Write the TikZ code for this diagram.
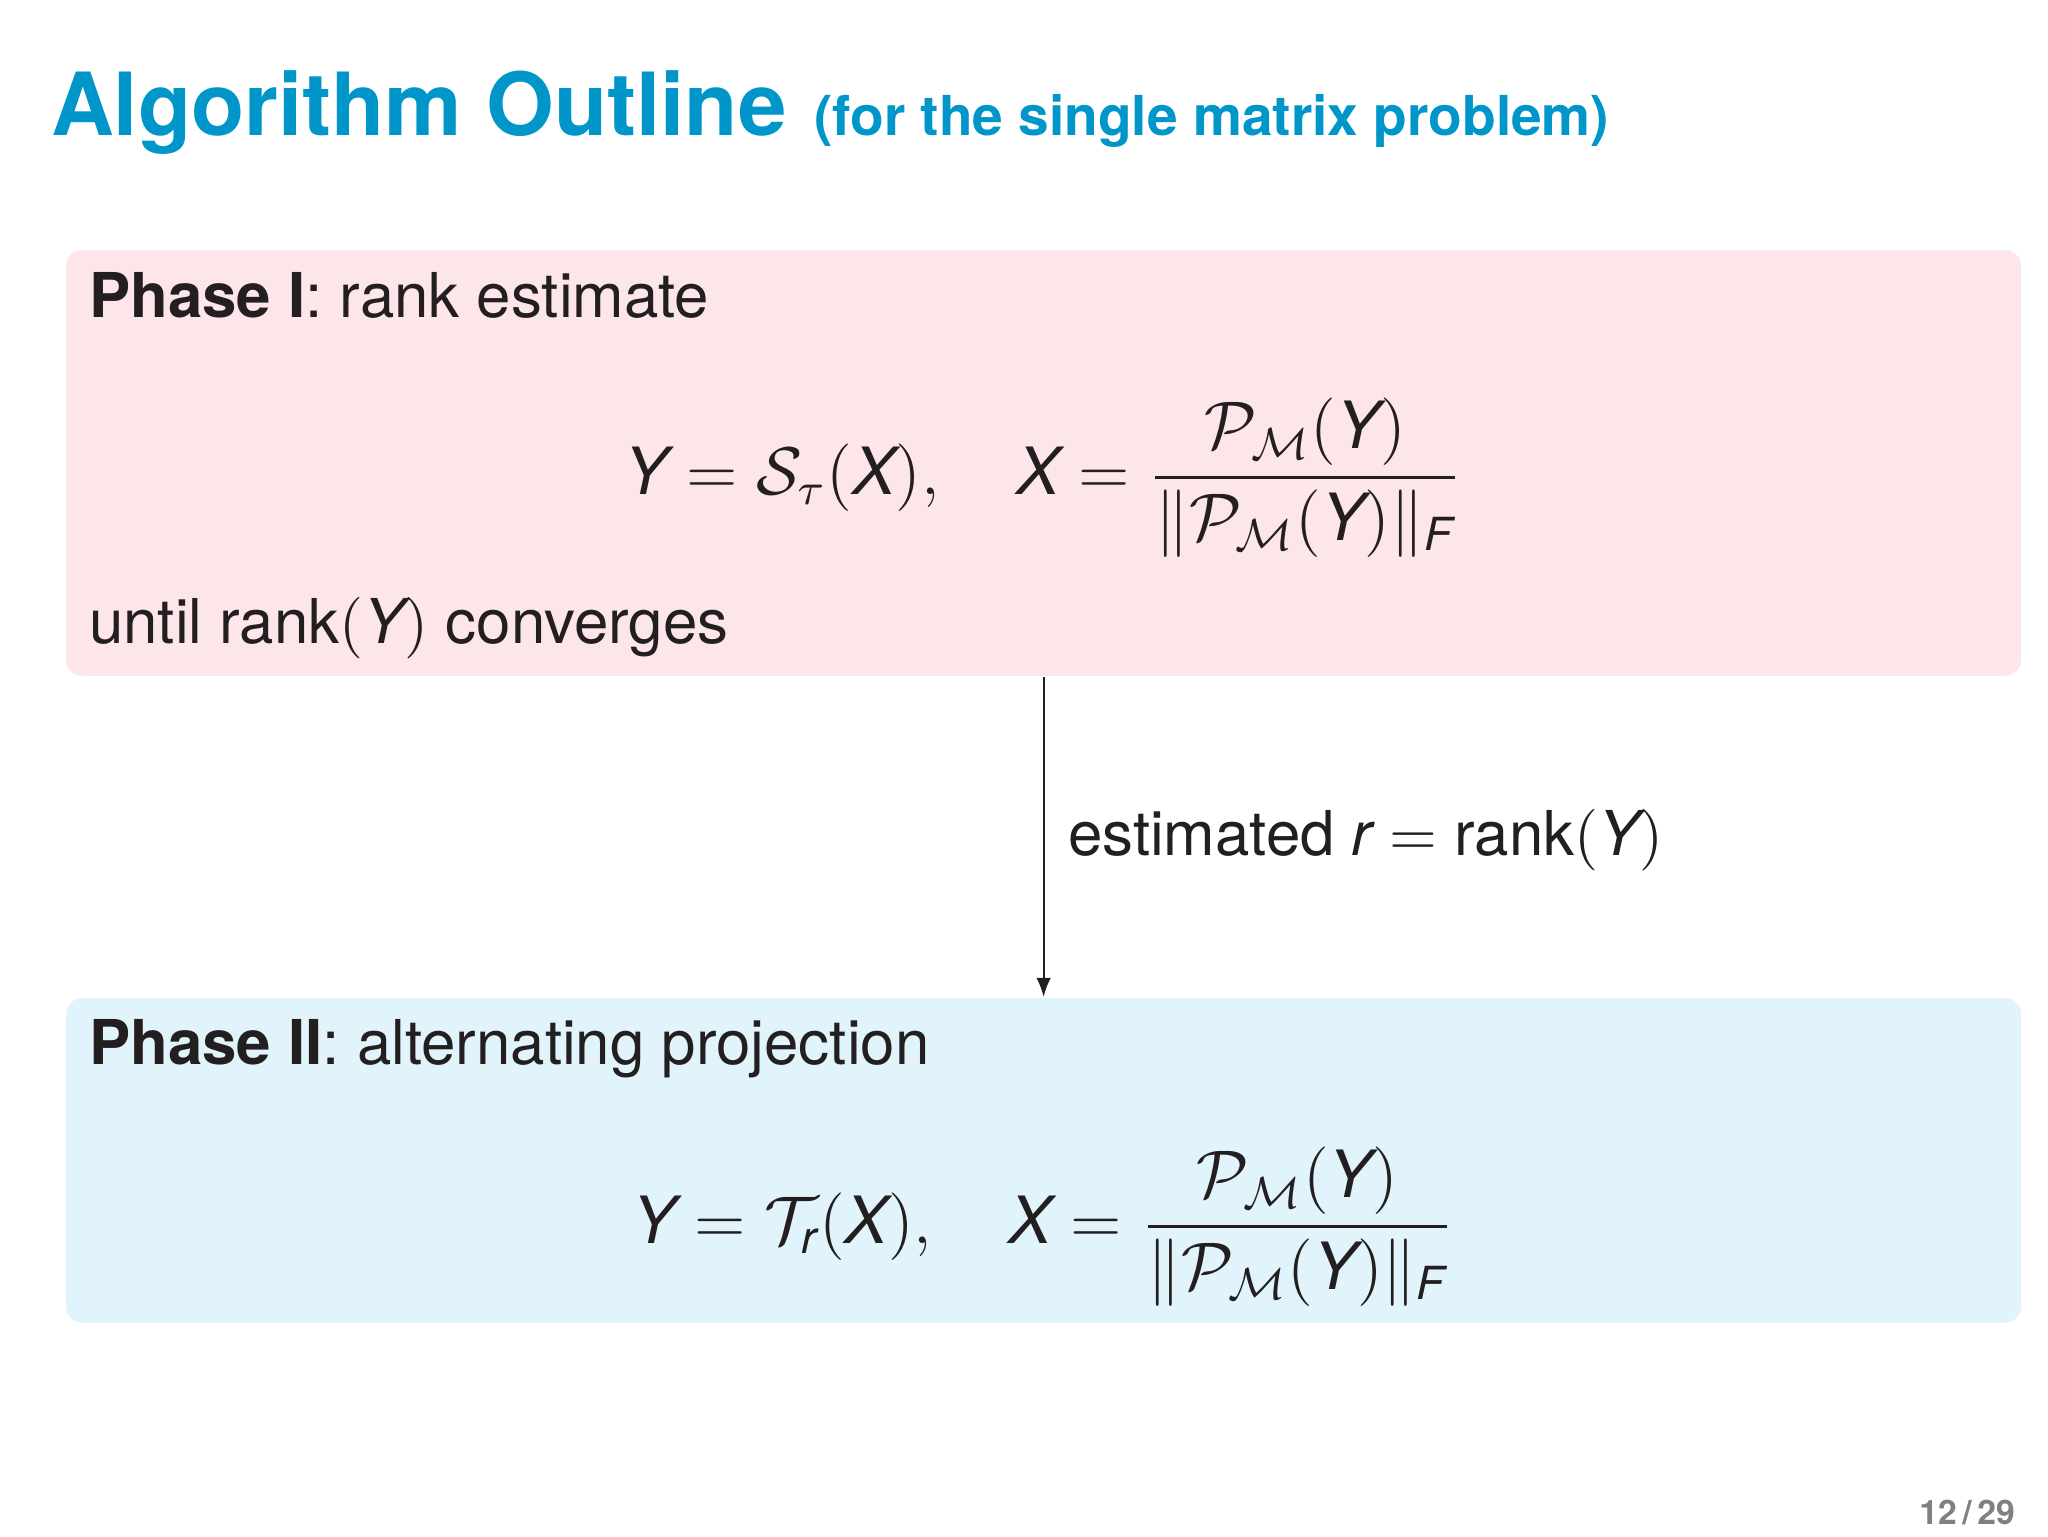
\documentclass[tikz,border=0pt]{standalone}
\usepackage{amsmath}
\usepackage{fontspec}
\setmainfont{TeX Gyre Heros}
\usepackage{tikz}
\usetikzlibrary{positioning}
\usetikzlibrary{arrows.meta}
\definecolor{titleblue}{RGB}{0,150,202}
\definecolor{phaseone}{RGB}{253,230,233}
\definecolor{phasetwo}{RGB}{225,243,251}
\definecolor{ink}{RGB}{35,31,32}
\definecolor{pagegray}{RGB}{128,128,128}
\newcommand{\iY}{\textit{Y}}
\newcommand{\iX}{\textit{X}}
\newcommand{\ir}{\textit{r}}
\newcommand{\iF}{\textit{F}}
\newcommand{\projM}{\mathcal{P}_{\mathcal{M}}}

\begin{document}
\begin{tikzpicture}[x=0.00625cm, y=-0.00625cm]

                \def\w{12.23cm}

                % Styles for the boxes and the texts
                \tikzset{
                    phasebox/.style={rounded corners=0.1cm, inner sep=0pt,
                        minimum width=\w, anchor=north west},
                    body/.style={inner sep=0pt, text=ink,
                        font=\fontsize{11}{13}\selectfont},
                    formula/.style={inner sep=0pt, text=ink,
                        font=\fontsize{11.6}{14}\selectfont},
                    flow/.style={-{Latex[length=3.4pt,width=2.6pt]},
                        line width=0.4pt, ink}
                }

                \useasboundingbox (0,0) rectangle (2048,1536);

                % Title of the slide
                \node (title) [anchor=base west, inner sep=0pt, text=titleblue,
                    font=\fontsize{15.5}{18}\selectfont\bfseries] at (50,135)
                {Algorithm Outline};
                \node (subtitle) [base right=0.16cm of title, inner sep=0pt,
                    text=titleblue, font=\fontsize{9.8}{12}\selectfont\bfseries]
                {(for the single matrix problem)};

                % Phase I
                \node (phase1) [phasebox, fill=phaseone, minimum height=2.6625cm]
                at (65,249) {};
                \node (head1) [body, anchor=base west] at (88,317)
                {\textbf{Phase I}: rank estimate};
                \node (eq1) [formula] at (1043,478)
                {$\displaystyle \iY = \mathcal{S}_\tau(\iX), \quad
                  \iX = \frac{\projM(\iY)}{\|\projM(\iY)\|_{\iF}}$};
                \node (foot1) [body, anchor=base west] at (88,643)
                {until rank$(\iY)$ converges};

                % Phase II
                \node (phase2) [phasebox, fill=phasetwo, minimum height=2.03cm]
                at (65,997) {};
                \node (head2) [body, anchor=base west] at (88,1064)
                {\textbf{Phase II}: alternating projection};
                \node (eq2) [formula] at (1043,1227)
                {$\displaystyle \iY = \mathcal{T}_{\ir}(\iX), \quad
                  \iX = \frac{\projM(\iY)}{\|\projM(\iY)\|_{\iF}}$};

                % Passing the rank on
                \draw[flow] (phase1.south) -- (phase2.north);
                \node (rank) [body, anchor=base west] at (1067,855)
                {estimated $\ir = \text{rank}(\iY)$};

                \node (pageno) [anchor=base east, inner sep=0pt, text=pagegray,
                    font=\fontsize{6}{7}\selectfont\bfseries] at (2016,1524)
                {12\,/\,29};

\end{tikzpicture}
\end{document}
